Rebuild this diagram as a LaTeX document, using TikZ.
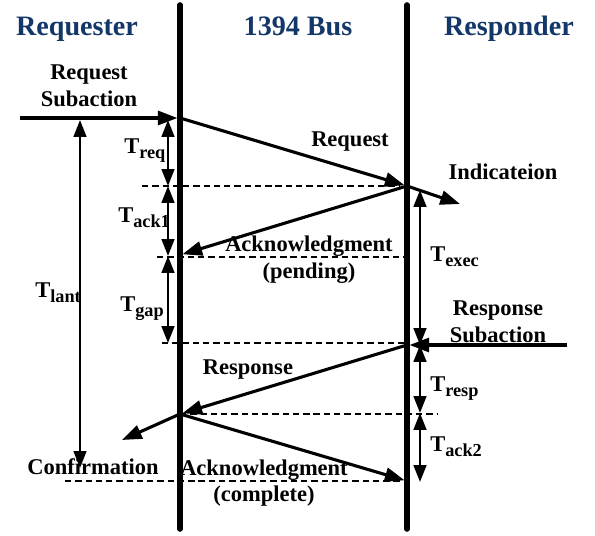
\documentclass[tikz,border=0pt]{standalone}
\usepackage{fontspec}
\setmainfont{Liberation Serif}
\usetikzlibrary{arrows.meta, positioning}
\definecolor{titleblue}{RGB}{20,55,105}

\newcommand{\tlab}[1]{T\raisebox{-0.45ex}{\fontsize{13}{13}\selectfont #1}}

\begin{document}
\begin{tikzpicture}[x=0.025cm, y=-0.025cm,
    bus/.style={line width=4pt, line cap=round},
    msg/.style={line width=2.2pt, shorten >=1.8pt, -{Triangle[length=14pt, width=10pt]}},
    span/.style={line width=1.8pt, {Triangle[length=12pt, width=9pt]}-{Triangle[length=12pt, width=9pt]}},
    guide/.style={line width=1.7pt, dash pattern=on 4.5pt off 2.8pt},
    lbl/.style={font=\fontsize{16}{19}\selectfont\bfseries, align=center, inner sep=0pt},
    tlbl/.style={font=\fontsize{16}{19}\selectfont\bfseries, anchor=base west, inner sep=0pt},
    title/.style={font=\fontsize{20}{22}\selectfont\bfseries, text=titleblue, anchor=base, inner sep=0pt}]
    \useasboundingbox (0,0) rectangle (595,536);

    % Column titles
    \node[title] (requester) at (77,36) {Requester};
    \node[title] (bus) at (298,36) {1394 Bus};
    \node[title] (responder) at (509,36) {Responder};

    % Bus lines
    \coordinate (lTop) at (180,5);
    \coordinate (lBot) at (180,529);
    \coordinate (rTop) at (407,5);
    \coordinate (rBot) at (407,529);
    \draw[bus] (lTop) -- (lBot);
    \draw[bus] (rTop) -- (rBot);

    % Dashed time marks
    \foreach \xa/\xb/\y in {142/400/186, 157/413/257, 162/407/343, 180/437/414, 65/413/481} {
        \draw[guide] (\xa,\y) -- (\xb,\y);
    }

    % Message points
    \coordinate (reqIn) at (20,118);
    \coordinate (reqL) at (180,118);
    \coordinate (reqR) at (407,186);
    \coordinate (ind) at (460,204);
    \coordinate (ackL) at (180,255);
    \coordinate (rspIn) at (567,345);
    \coordinate (rspR) at (407,345);
    \coordinate (rspL) at (180,414);
    \coordinate (conf) at (122,440);
    \coordinate (ackR) at (407,481);

    \draw[msg] (reqIn) -- (reqL);
    \draw[msg] (reqL) -- (reqR);
    \draw[msg, shorten >=0pt] (reqR) -- (ind);
    \draw[msg] (reqR) -- (ackL);
    \draw[msg] (rspIn) -- (rspR);
    \draw[msg] (rspR) -- (rspL);
    \draw[msg, shorten >=0pt] (rspL) -- (conf);
    \draw[msg] (rspL) -- (ackR);

    % Time spans
    \coordinate (a0) at (168,120);
    \coordinate (a1) at (168,186);
    \coordinate (a2) at (168,256);
    \coordinate (a3) at (168,343);
    \coordinate (b0) at (420,190);
    \coordinate (b1) at (420,345);
    \coordinate (b2) at (420,413);
    \coordinate (b3) at (420,482);
    \coordinate (c0) at (80,120);
    \coordinate (c1) at (80,468);
    \draw[span] (a0) -- (a1);
    \draw[span] (a1) -- (a2);
    \draw[span] (a2) -- (a3);
    \draw[span] (b0) -- (b1);
    \draw[span] (b1) -- (b2);
    \draw[span] (b2) -- (b3);
    \draw[span] (c0) -- (c1);

    \node[tlbl] (treq) at (124,154) {\tlab{req}};
    \node[tlbl] (tack1) at (118,223) {\tlab{ack1}};
    \node[tlbl] (tgap) at (120,312) {\tlab{gap}};
    \node[tlbl] (tlant) at (35,298) {\tlab{lant}};
    \node[tlbl] (texec) at (430,262) {\tlab{exec}};
    \node[tlbl] (tresp) at (430,392) {\tlab{resp}};
    \node[tlbl] (tack2) at (430,452) {\tlab{ack2}};

    % Message labels
    \node[lbl] (reqsub) at (89,86) {Request\\Subaction};
    \node[lbl, anchor=base] (reqmsg) at (350,147) {Request};
    \node[lbl, anchor=base] (indmsg) at (503,180) {Indicateion};
    \node[lbl] (ackpend) at (309,260) {Acknowledgment\\(pending)};
    \node[lbl] (rspsub) at (498,322) {Response\\Subaction};
    \node[lbl, anchor=base] (rspmsg) at (248,375) {Response};
    \node[lbl, anchor=base] (confmsg) at (93,475) {Confirmation};
    \node[lbl] (ackcomp) at (264,483) {Acknowledgment\\(complete)};
\end{tikzpicture}
\end{document}
